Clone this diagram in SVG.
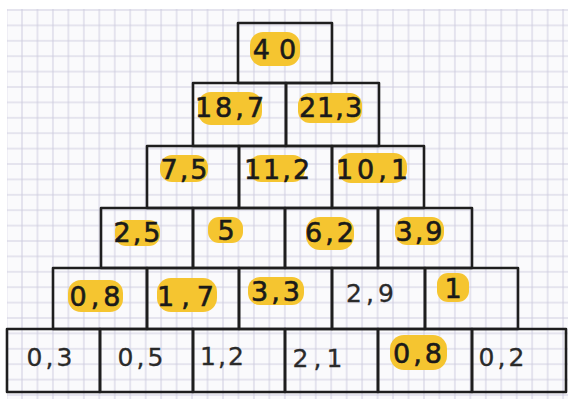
<svg xmlns="http://www.w3.org/2000/svg" width="568" height="399" viewBox="0 0 568 399">
  <defs>
    <pattern id="grid" patternUnits="userSpaceOnUse" x="14.27" y="2.3" width="15.46" height="15.4">
      <path d="M7.73 0V15.4M0 7.7H15.46" stroke="#cfcde0" stroke-width="1" fill="none"/>
    </pattern>
  </defs>
  <style>
    .cell { fill: none; stroke: #1e1e1e; stroke-width: 2.6; stroke-linejoin: round; }
    .hl { fill: #f5c530; }
    .num { font-family: "DejaVu Sans", sans-serif; font-size: 27px; fill: #1a1a1a; stroke: #1a1a1a; stroke-width: 0.6; text-anchor: middle; dominant-baseline: central; letter-spacing: 2px; }
    .low { font-size: 25px; stroke-width: 0.3; fill: #2a2a2a; stroke: #2a2a2a; }
  </style>
  <rect x="0" y="0" width="568" height="399" fill="#ffffff"/>
  <rect x="7" y="9" width="561" height="390" fill="#fafafc"/>
  <rect x="7" y="9" width="561" height="390" fill="url(#grid)"/>

  <g id="connectors"></g>

  <g id="r0c0"><rect class="cell" x="238" y="23" width="94" height="60"/><rect class="hl" x="250" y="32" width="50" height="34" rx="13"/><text class="num" x="279" y="49" style="letter-spacing:9px">40</text></g>

  <g id="r1c0"><rect class="cell" x="193" y="83" width="93" height="63"/><rect class="hl" x="198" y="92" width="64" height="33" rx="13"/><text class="num" x="231" y="107" style="letter-spacing:3px">18,7</text></g>
  <g id="r1c1"><rect class="cell" x="286" y="83" width="93" height="63"/><rect class="hl" x="298" y="93" width="64" height="30" rx="12"/><text class="num" x="331" y="107" style="letter-spacing:1px">21,3</text></g>

  <g id="r2c0"><rect class="cell" x="147" y="146" width="92" height="62"/><rect class="hl" x="160" y="155" width="48" height="27" rx="12"/><text class="num" x="185" y="169">7,5</text></g>
  <g id="r2c1"><rect class="cell" x="239" y="146" width="93" height="62"/><rect class="hl" x="249" y="155" width="56" height="27" rx="12"/><text class="num" x="278" y="169" style="letter-spacing:2px">11,2</text></g>
  <g id="r2c2"><rect class="cell" x="332" y="146" width="92" height="62"/><rect class="hl" x="338" y="153" width="69" height="30" rx="13"/><text class="num" x="374" y="169" style="letter-spacing:4px">10,1</text></g>

  <g id="r3c0"><rect class="cell" x="101" y="208" width="92" height="60"/><rect class="hl" x="115" y="220" width="45" height="26" rx="11"/><text class="num" x="138" y="232">2,5</text></g>
  <g id="r3c1"><rect class="cell" x="193" y="208" width="92" height="60"/><rect class="hl" x="208" y="217" width="35" height="26" rx="11"/><text class="num" x="227" y="230">5</text></g>
  <g id="r3c2"><rect class="cell" x="285" y="208" width="93" height="60"/><rect class="hl" x="306" y="217" width="48" height="33" rx="14"/><text class="num" x="331" y="232" style="letter-spacing:3px">6,2</text></g>
  <g id="r3c3"><rect class="cell" x="378" y="208" width="94" height="60"/><rect class="hl" x="395" y="217" width="49" height="28" rx="12"/><text class="num" x="420" y="231">3,9</text></g>

  <g id="r4c0"><rect class="cell" x="53" y="268" width="94" height="61"/><rect class="hl" x="68" y="280" width="55" height="32" rx="13"/><text class="num" x="97" y="296" style="letter-spacing:4px">0,8</text></g>
  <g id="r4c1"><rect class="cell" x="147" y="268" width="92" height="61"/><rect class="hl" x="157" y="278" width="60" height="34" rx="14"/><text class="num" x="189" y="296" style="letter-spacing:7px">1,7</text></g>
  <g id="r4c2"><rect class="cell" x="239" y="268" width="93" height="61"/><rect class="hl" x="248" y="277" width="56" height="28" rx="12"/><text class="num" x="277" y="291" style="letter-spacing:3px">3,3</text></g>
  <g id="r4c3"><rect class="cell" x="332" y="268" width="93" height="61"/><text class="num low" x="372" y="293" style="letter-spacing:4px">2,9</text></g>
  <g id="r4c4"><rect class="cell" x="425" y="268" width="93" height="61"/><rect class="hl" x="437" y="273" width="32" height="29" rx="11"/><text class="num" x="454" y="288">1</text></g>

  <g id="r5c0"><rect class="cell" x="7" y="329" width="93" height="63"/><text class="num low" x="51" y="357" style="letter-spacing:3px">0,3</text></g>
  <g id="r5c1"><rect class="cell" x="100" y="329" width="93" height="63"/><text class="num low" x="142" y="357" style="letter-spacing:3px">0,5</text></g>
  <g id="r5c2"><rect class="cell" x="193" y="329" width="92" height="63"/><text class="num low" x="223" y="356">1,2</text></g>
  <g id="r5c3"><rect class="cell" x="285" y="329" width="93" height="63"/><text class="num low" x="320" y="358" style="letter-spacing:5px">2,1</text></g>
  <g id="r5c4"><rect class="cell" x="378" y="329" width="94" height="63"/><rect class="hl" x="390" y="335" width="57" height="35" rx="14"/><text class="num" x="419" y="353" style="letter-spacing:3px">0,8</text></g>
  <g id="r5c5"><rect class="cell" x="472" y="329" width="94" height="63"/><text class="num low" x="503" y="357" style="letter-spacing:3px">0,2</text></g>
</svg>
